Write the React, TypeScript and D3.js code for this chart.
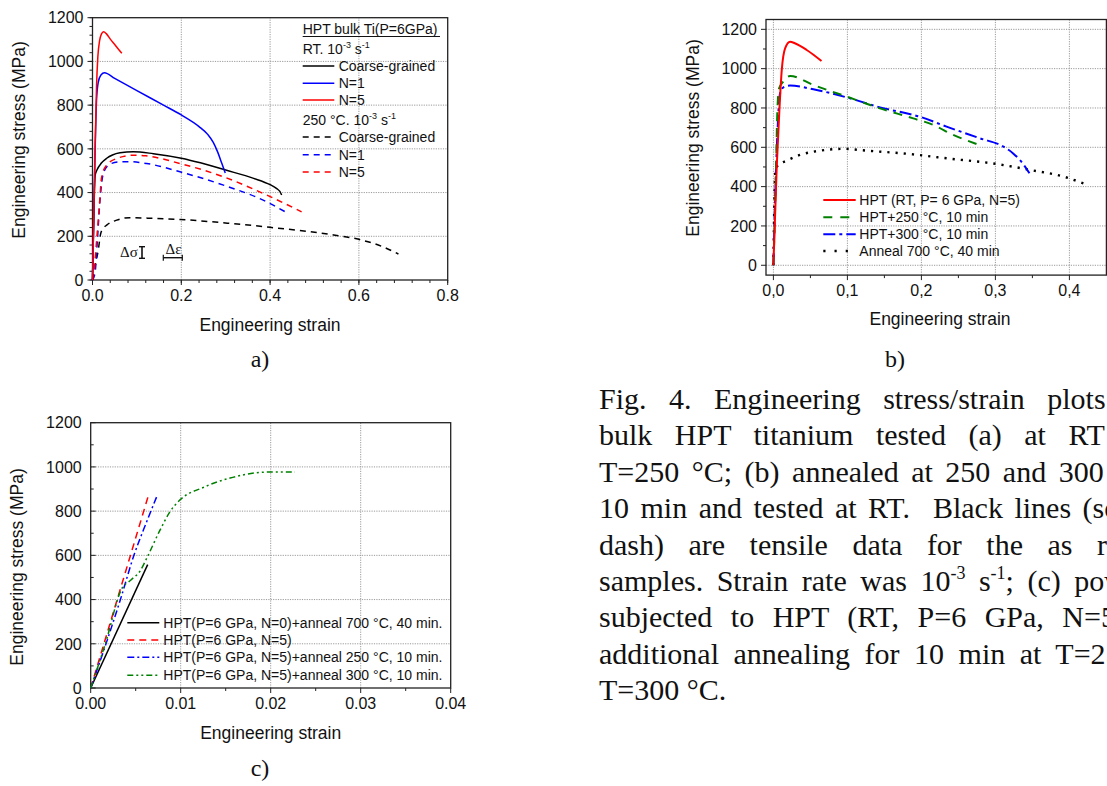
import React from "react";
import * as d3 from "d3";

type Pt = [number, number];

// ---------------- Panel a data ----------------
const aXTicks = [0, 0.2, 0.4, 0.6, 0.8];
const aYTicks = [0, 200, 400, 600, 800, 1000, 1200];
const aRT_CG: Pt[] = [[0,0],[0.002,200],[0.0045,420],[0.006,480],[0.01,503],[0.02,535],[0.032,557],[0.045,572],[0.062,582],[0.092,587],[0.137,578],[0.2,557],[0.243,536],[0.3,503],[0.363,465],[0.4,436],[0.415,418],[0.422,405],[0.426,389]];
const aRT_N1: Pt[] = [[0,0],[0.003,300],[0.006,600],[0.009,820],[0.013,905],[0.019,938],[0.027,948],[0.05,922],[0.1,866],[0.16,800],[0.2,755],[0.24,702],[0.26,665],[0.272,630],[0.282,585],[0.291,535],[0.299,490]];
const aRT_N5: Pt[] = [[0,0],[0.003,300],[0.006,620],[0.009,880],[0.012,1020],[0.016,1095],[0.02,1125],[0.025,1136],[0.031,1127],[0.04,1102],[0.05,1077],[0.066,1037]];
const a250_CG: Pt[] = [[0,0],[0.0056,61],[0.013,137],[0.0185,213],[0.025,238],[0.032,251],[0.0545,274],[0.084,285],[0.137,282],[0.197,277],[0.31,259],[0.4,241],[0.543,206],[0.6,186],[0.65,155],[0.689,119]];
const a250_N1: Pt[] = [[0,0],[0.0056,31],[0.011,183],[0.0169,366],[0.0245,488],[0.039,530],[0.06,540],[0.084,541],[0.122,533],[0.197,495],[0.295,434],[0.392,358],[0.434,312]];
const a250_N5: Pt[] = [[0,0],[0.003,31],[0.0094,183],[0.0153,335],[0.0207,472],[0.032,526],[0.0545,556],[0.092,571],[0.12,568],[0.197,533],[0.295,472],[0.392,389],[0.471,312]];

// ---------------- Panel b data ----------------
const bXTicks = [0, 0.1, 0.2, 0.3, 0.4];
const bYTicks = [0, 200, 400, 600, 800, 1000, 1200];
const bHPT: Pt[] = [[0,0],[0.0045,502],[0.0081,790],[0.0113,993],[0.0158,1103],[0.0225,1137],[0.029,1129],[0.045,1095],[0.065,1039]];
const b250: Pt[] = [[0,0],[0.0014,163],[0.0036,502],[0.0054,790],[0.0077,900],[0.0135,934],[0.0225,963],[0.054,917],[0.099,858],[0.144,798],[0.189,747],[0.216,714],[0.243,663],[0.276,615]];
const b300: Pt[] = [[0,0],[0.0023,332],[0.0054,671],[0.009,875],[0.0135,905],[0.0225,914],[0.054,895],[0.099,854],[0.144,803],[0.2,753],[0.234,705],[0.279,646],[0.311,603],[0.324,569],[0.333,536],[0.34,502],[0.346,468]];
const b700: Pt[] = [[0,0],[0.0014,332],[0.003,490],[0.0054,505],[0.018,532],[0.036,561],[0.063,583],[0.095,592],[0.126,583],[0.189,564],[0.234,544],[0.302,515],[0.347,485],[0.392,451],[0.4225,412]];

// ---------------- Panel c data ----------------
const cXTicks = [0, 0.01, 0.02, 0.03, 0.04];
const cYTicks = [0, 200, 400, 600, 800, 1000, 1200];
const cCG: Pt[] = [[0,0],[0.00633,558]];
const cHPT: Pt[] = [[0,0],[0.00648,880]];
const c250: Pt[] = [[0,0],[0.0017,200],[0.0033,400],[0.0048,600],[0.0062,750],[0.0074,872]];
const c300: Pt[] = [[0,0],[0.0017,210],[0.0034,445],[0.0045,490],[0.0055,530],[0.0062,585],[0.0077,714],[0.0088,797],[0.0099,850],[0.0125,907],[0.0155,950],[0.0199,977],[0.0227,977]];

// ---------------- Caption ----------------
const captionLines = [
  "Fig. 4. Engineering stress/strain plots of",
  "bulk HPT titanium tested (a) at RT and",
  "T=250 °C; (b) annealed at 250 and 300 °C",
  "10 min and tested at RT.  Black lines (solid",
  "dash) are tensile data for the as received",
  "",
  "subjected to HPT (RT, P=6 GPa, N=5) and",
  "additional annealing for 10 min at T=250 and",
  "T=300 °C.",
];
const captionSpacing = [15, 15, 5, 4, 17, 6, 11, 7, 0];

const SANS = "'Liberation Sans', Arial, sans-serif";
const SERIF = "'Liberation Serif', 'Times New Roman', serif";

const RED = "#ff0000";
const BLUE = "#0000ff";
const GREEN = "#008000";
const BLACK = "#000000";

type Scale = d3.ScaleLinear<number, number>;

interface AxesProps {
  xs: Scale; ys: Scale;
  xTicks: number[]; yTicks: number[];
  xMinor: number[]; yMinor: number[];
  xGrid: number[]; yGrid: number[];
  xFmt: (v: number) => string;
  yIn?: boolean;
}

function Axes({ xs, ys, xTicks, yTicks, xMinor, yMinor, xGrid, yGrid, xFmt, yIn }: AxesProps) {
  const [x0, x1] = xs.range();
  const [y0, y1] = ys.range();
  const yd = yIn ? 1 : -1;
  return (
    <g>
      {xGrid.map((v) => (
        <line key={"gx" + v} x1={xs(v)} x2={xs(v)} y1={y0} y2={y1} stroke="#9a9a9a" strokeWidth={1} strokeDasharray="1.2,1.2" />
      ))}
      {yGrid.map((v) => (
        <line key={"gy" + v} y1={ys(v)} y2={ys(v)} x1={x0} x2={x1} stroke="#9a9a9a" strokeWidth={1} strokeDasharray="1.2,1.2" />
      ))}
      <rect x={x0} y={y1} width={x1 - x0} height={y0 - y1} fill="none" stroke="#222" strokeWidth={1.3} />
      {xMinor.map((v) => (
        <line key={"mx" + v} x1={xs(v)} x2={xs(v)} y1={y0} y2={y0 + 3} stroke="#222" strokeWidth={1} />
      ))}
      {xTicks.map((v) => (
        <line key={"tx" + v} x1={xs(v)} x2={xs(v)} y1={y0} y2={y0 + 5} stroke="#222" strokeWidth={1} />
      ))}
      {yMinor.map((v) => (
        <line key={"my" + v} x1={x0} x2={x0 + yd * 3} y1={ys(v)} y2={ys(v)} stroke="#222" strokeWidth={1} />
      ))}
      {yTicks.map((v) => (
        <line key={"ty" + v} x1={x0} x2={x0 + yd * 5} y1={ys(v)} y2={ys(v)} stroke="#222" strokeWidth={1} />
      ))}
      {xTicks.map((v) => (
        <text key={"lx" + v} x={xs(v)} y={y0 + 21} textAnchor="middle" fontFamily={SANS} fontSize={16} fill="#111">
          {xFmt(v)}
        </text>
      ))}
      {yTicks.map((v) => (
        <text key={"ly" + v} x={x0 - 9} y={ys(v)} dy="0.36em" textAnchor="end" fontFamily={SANS} fontSize={16} fill="#111">
          {String(v)}
        </text>
      ))}
    </g>
  );
}

function Curve({ data, xs, ys, color, dash, width }: { data: Pt[]; xs: Scale; ys: Scale; color: string; dash?: string; width?: number }) {
  const gen = d3.line<Pt>().x((d) => xs(d[0])).y((d) => ys(d[1])).curve(d3.curveMonotoneX);
  return <path d={gen(data) || ""} fill="none" stroke={color} strokeWidth={width ?? 1.5} strokeDasharray={dash} strokeLinejoin="round" />;
}

function LegendRow({ x1, x2, y, color, dash, width, label, tx }: { x1: number; x2: number; y: number; color: string; dash?: string; width?: number; label: string; tx: number }) {
  return (
    <g>
      <line x1={x1} x2={x2} y1={y} y2={y} stroke={color} strokeWidth={width ?? 1.5} strokeDasharray={dash} />
      <text x={tx} y={y + 5} fontFamily={SANS} fontSize={14} fill="#111">{label}</text>
    </g>
  );
}

export default function App() {
  // Panel a scales
  const axs = d3.scaleLinear().domain([0, 0.8]).range([92.5, 447.7]);
  const ays = d3.scaleLinear().domain([0, 1200]).range([280, 17.7]);
  // Panel b scales
  const bxs = d3.scaleLinear().domain([-0.01, 0.45]).range([766, 1106.4]);
  const bys = d3.scaleLinear().domain([-50, 1250]).range([275.1, 19.5]);
  // Panel c scales
  const cxs = d3.scaleLinear().domain([0, 0.04]).range([90.7, 450.7]);
  const cys = d3.scaleLinear().domain([0, 1200]).range([688, 422.7]);

  const dashA = "6,5";
  const lx1 = 302.7, lx2 = 334.3, ltx = 338.7;
  const bl1 = 823.3, bl2 = 855.7, btx = 859.3;
  const cl1 = 127.3, cl2 = 159.3, ctx = 163.3;

  return (
    <svg width={1107} height={786} style={{ position: "absolute", left: 0, top: 0, background: "#fff" }} xmlns="http://www.w3.org/2000/svg">
      <rect x={0} y={0} width={1107} height={786} fill="#fff" />

      {/* ================= Panel a ================= */}
      <Axes xs={axs} ys={ays} xTicks={aXTicks} yTicks={aYTicks}
        xMinor={d3.range(0, 0.8001, 0.04)} yMinor={d3.range(0, 1200.1, 40)}
        xGrid={[0.2, 0.4, 0.6]} yGrid={[200, 400, 600, 800, 1000]}
        xFmt={(v) => v.toFixed(1)} />
      <Curve data={a250_CG} xs={axs} ys={ays} color={BLACK} dash={dashA} />
      <Curve data={a250_N1} xs={axs} ys={ays} color={BLUE} dash={dashA} />
      <Curve data={a250_N5} xs={axs} ys={ays} color={RED} dash={dashA} />
      <Curve data={aRT_CG} xs={axs} ys={ays} color={BLACK} />
      <Curve data={aRT_N1} xs={axs} ys={ays} color={BLUE} />
      <Curve data={aRT_N5} xs={axs} ys={ays} color={RED} />
      <text x={270} y={331} textAnchor="middle" fontFamily={SANS} fontSize={17.5} fill="#111">Engineering strain</text>
      <text transform="translate(25,140) rotate(-90)" textAnchor="middle" fontFamily={SANS} fontSize={17.5} fill="#111">Engineering stress (MPa)</text>
      {/* legend a */}
      <text x={lx1} y={34} fontFamily={SANS} fontSize={14} fill="#111">HPT bulk Ti(P=6GPa)</text>
      <line x1={lx1} x2={440} y1={36.5} y2={36.5} stroke="#111" strokeWidth={1} />
      <text x={lx1} y={54} fontFamily={SANS} fontSize={14} fill="#111">
        RT. 10<tspan fontSize={9} dy={-6}>-3</tspan><tspan dy={6}> s</tspan><tspan fontSize={9} dy={-6}>-1</tspan>
      </text>
      <LegendRow x1={lx1} x2={lx2} y={66} color={BLACK} label="Coarse-grained" tx={ltx} />
      <LegendRow x1={lx1} x2={lx2} y={83.3} color={BLUE} label="N=1" tx={ltx} />
      <LegendRow x1={lx1} x2={lx2} y={100} color={RED} label="N=5" tx={ltx} />
      <text x={lx1} y={125} fontFamily={SANS} fontSize={14} fill="#111">
        250 °C. 10<tspan fontSize={9} dy={-6}>-3</tspan><tspan dy={6}> s</tspan><tspan fontSize={9} dy={-6}>-1</tspan>
      </text>
      <LegendRow x1={lx1} x2={lx2} y={137} color={BLACK} dash={dashA} label="Coarse-grained" tx={ltx} />
      <LegendRow x1={lx1} x2={lx2} y={154.7} color={BLUE} dash={dashA} label="N=1" tx={ltx} />
      <LegendRow x1={lx1} x2={lx2} y={172} color={RED} dash={dashA} label="N=5" tx={ltx} />
      {/* delta annotations */}
      <text x={120} y={257} fontFamily={SERIF} fontSize={15} fill="#111">Δσ</text>
      <line x1={142} x2={142} y1={246.7} y2={258.3} stroke="#111" strokeWidth={1.6} />
      <line x1={139} x2={145} y1={246.7} y2={246.7} stroke="#111" strokeWidth={1.4} />
      <line x1={139} x2={145} y1={258.3} y2={258.3} stroke="#111" strokeWidth={1.4} />
      <text x={165.5} y={253.5} fontFamily={SERIF} fontSize={15} fill="#111">Δε</text>
      <line x1={163.3} x2={182.3} y1={257.7} y2={257.7} stroke="#111" strokeWidth={1.4} />
      <line x1={163.3} x2={163.3} y1={254.7} y2={260.7} stroke="#111" strokeWidth={1.2} />
      <line x1={182.3} x2={182.3} y1={254.7} y2={260.7} stroke="#111" strokeWidth={1.2} />
      <text x={260} y={367} textAnchor="middle" fontFamily={SERIF} fontSize={24} fill="#111">a)</text>

      {/* ================= Panel b ================= */}
      <Axes xs={bxs} ys={bys} xTicks={bXTicks} yTicks={bYTicks}
        xMinor={[0.05, 0.15, 0.25, 0.35]} yMinor={d3.range(100, 1200, 200)}
        xGrid={bXTicks} yGrid={bYTicks}
        xFmt={(v) => v.toFixed(1).replace(".", ",")} />
      <Curve data={b700} xs={bxs} ys={bys} color={BLACK} dash="2.2,6" width={2.4} />
      <Curve data={b300} xs={bxs} ys={bys} color={BLUE} dash="12,4,3,4" width={2} />
      <Curve data={b250} xs={bxs} ys={bys} color={GREEN} dash="9,7" width={2} />
      <Curve data={bHPT} xs={bxs} ys={bys} color={RED} width={2} />
      <text x={940} y={325} textAnchor="middle" fontFamily={SANS} fontSize={17.5} fill="#111">Engineering strain</text>
      <text transform="translate(699,138) rotate(-90)" textAnchor="middle" fontFamily={SANS} fontSize={17.5} fill="#111">Engineering stress (MPa)</text>
      <LegendRow x1={bl1} x2={bl2} y={200} color={RED} width={2} label="HPT (RT, P= 6 GPa, N=5)" tx={btx} />
      <LegendRow x1={bl1} x2={bl2} y={217.3} color={GREEN} width={2} dash="9,8" label="HPT+250 °C, 10 min" tx={btx} />
      <LegendRow x1={bl1} x2={bl2} y={234.3} color={BLUE} width={2} dash="12,4,3,4" label="HPT+300 °C, 10 min" tx={btx} />
      <LegendRow x1={bl1} x2={bl2} y={251} color={BLACK} width={2.4} dash="2.2,9" label="Anneal 700 °C, 40 min" tx={btx} />
      <text x={895} y={367} textAnchor="middle" fontFamily={SERIF} fontSize={24} fill="#111">b)</text>

      {/* ================= Panel c ================= */}
      <Axes xs={cxs} ys={cys} xTicks={cXTicks} yTicks={cYTicks}
        xMinor={[0.005, 0.015, 0.025, 0.035]} yMinor={d3.range(100, 1200, 200)}
        xGrid={[0.01, 0.02, 0.03]} yGrid={[200, 400, 600, 800, 1000]}
        xFmt={(v) => v.toFixed(2)} yIn />
      <Curve data={cCG} xs={cxs} ys={cys} color={BLACK} />
      <Curve data={cHPT} xs={cxs} ys={cys} color={RED} dash="7,5" />
      <Curve data={c250} xs={cxs} ys={cys} color={BLUE} dash="7,3,2,3" />
      <Curve data={c300} xs={cxs} ys={cys} color={GREEN} dash="6,3,2,3,2,3" />
      <text x={270.7} y={739} textAnchor="middle" fontFamily={SANS} fontSize={17.5} fill="#111">Engineering strain</text>
      <text transform="translate(23,567) rotate(-90)" textAnchor="middle" fontFamily={SANS} fontSize={17.5} fill="#111">Engineering stress (MPa)</text>
      <LegendRow x1={cl1} x2={cl2} y={622.7} color={BLACK} label="HPT(P=6 GPa, N=0)+anneal 700 °C, 40 min." tx={ctx} />
      <LegendRow x1={cl1} x2={cl2} y={640} color={RED} dash="7,5" label="HPT(P=6 GPa, N=5)" tx={ctx} />
      <LegendRow x1={cl1} x2={cl2} y={657.3} color={BLUE} dash="7,3,2,3" label="HPT(P=6 GPa, N=5)+anneal 250 °C, 10 min." tx={ctx} />
      <LegendRow x1={cl1} x2={cl2} y={675.3} color={GREEN} dash="6,3,2,3,2,3" label="HPT(P=6 GPa, N=5)+anneal 300 °C, 10 min." tx={ctx} />
      <text x={260} y={776} textAnchor="middle" fontFamily={SERIF} fontSize={24} fill="#111">c)</text>

      {/* ================= Caption ================= */}
      {captionLines.map((line, i) =>
        line ? (
          <text key={"cap" + i} x={599} y={409 + 36.4 * i} fontFamily={SERIF} fontSize={30} fill="#111"
            style={{ whiteSpace: "pre", wordSpacing: captionSpacing[i] + "px" }}>
            {line}
          </text>
        ) : null
      )}
      <text x={599} y={409 + 36.4 * 5} fontFamily={SERIF} fontSize={30} fill="#111"
        style={{ whiteSpace: "pre", wordSpacing: captionSpacing[5] + "px" }}>
        samples. Strain rate was 10<tspan fontSize={18} dy={-12}>-3</tspan><tspan dy={12}> s</tspan><tspan fontSize={18} dy={-12}>-1</tspan><tspan dy={12}>; (c) powders</tspan>
      </text>
    </svg>
  );
}
